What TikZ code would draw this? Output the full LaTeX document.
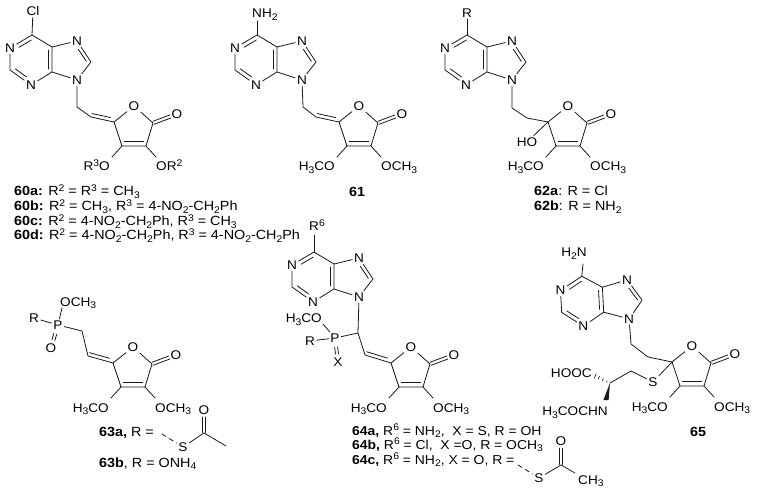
\documentclass[tikz,border=0pt]{standalone}
\usepackage{fontspec}
\setmainfont[FakeStretch=1.08]{Liberation Sans}
\usetikzlibrary{calc}
\newcommand\Up[1]{\raisebox{4.8pt}{\fontsize{9.6}{10}\selectfont #1}}
\newcommand\Dn[1]{\raisebox{-2.8pt}{\fontsize{9.6}{10}\selectfont #1}}
\tikzset{
 bnd/.style={line width=.8pt,line cap=round,line join=round,draw=black!90},
 dbnd/.style={bnd,dash pattern=on 4.5pt off 4pt},
 atom/.style={inner sep=1.6pt,font=\fontsize{12.6}{14}\selectfont},
 grp/.style={inner sep=0pt,font=\fontsize{12.6}{14}\selectfont},
 caption/.style={inner sep=0pt,anchor=base west,font=\fontsize{13.3}{14}\selectfont},
 captionb/.style={caption,font=\fontsize{12.9}{14}\selectfont},
}
% inner double-bond line: a, b, offset, start fraction, end fraction
\newcommand\inn[5]{\draw[bnd] ($(#1)!#4!(#2)!#3pt!90:(#2)$) -- ($(#1)!#5!(#2)!#3pt!90:(#2)$);}
% symmetric double bond
\newcommand\dbo[5]{\inn{#1}{#2}{#3}{#4}{#5}\inn{#1}{#2}{-#3}{#4}{#5}}
\newcommand\purine[4]{%
 \begin{scope}[shift={(#2,#3)},rotate=#4]
  \node[atom] (#1n1) at (10,48) {N};
  \node[atom] (#1n3) at (31,85) {N};
  \node[atom] (#1n7) at (77,41) {N};
  \node[atom] (#1n9) at (77,80) {N};
  \coordinate (#1c6) at (32,35);
  \coordinate (#1c2) at (10,70);
  \coordinate (#1c4) at (52,72);
  \coordinate (#1c5) at (52,47);
  \coordinate (#1c8) at (91,62);
 \end{scope}
 \draw[bnd] (#1c6) -- (#1n1) (#1n1) -- (#1c2) -- (#1n3) (#1n3) -- (#1c4) -- (#1c5) -- (#1c6)
  (#1c5) -- (#1n7) (#1n7) -- (#1c8) -- (#1n9) (#1n9) -- (#1c4);
 \inn{#1c6}{#1n1}{4}{.12}{.68}
 \inn{#1c2}{#1n3}{4}{.14}{.68}
 \inn{#1c4}{#1c5}{4}{.12}{.88}
 \inn{#1c8}{#1n7}{3.5}{.12}{.7}
}
% furanone ring, #4 left label, #5 right label
\newcommand\furan[5]{%
 \begin{scope}[shift={(#2,#3)}]
  \coordinate (#1a) at (114,122);
  \node[atom] (#1o) at (134,106) {O};
  \coordinate (#1b) at (153,123);
  \coordinate (#1c) at (146,146);
  \coordinate (#1d) at (122,146);
  \node[atom] (#1k) at (177,114) {O};
  \node[grp,anchor=base east] (#1l) at (110,171) {#4};
  \node[grp,anchor=base west] (#1r) at (156,171) {#5};
  \coordinate (#1le) at (112,157);
  \coordinate (#1re) at (156,157);
 \end{scope}
 \draw[bnd] (#1a) -- (#1o) (#1o) -- (#1b) -- (#1c) -- (#1d) -- (#1a);
 \inn{#1d}{#1c}{4.2}{.1}{.9}
 \dbo{#1b}{#1k}{1.6}{.02}{.72}
 \draw[bnd] (#1d) -- (#1le) (#1c) -- (#1re);
}
\begin{document}
\begin{tikzpicture}[x=1pt,y=-1pt]
\useasboundingbox (0,0) rectangle (758,489);
% ---- 60
\purine{p}{0}{0}{0}
\furan{f}{0}{0}{R\Up{3}O}{OR\Up{2}}
\node[atom] (cl) at (33,11) {Cl};
\draw[bnd] (pc6) -- (cl);
\coordinate (pm) at (77,107);
\coordinate (pv) at (91,117);
\draw[bnd] (pn9) -- (pm) -- (pv) -- (fa);
\inn{pv}{fa}{3.6}{.02}{.82}
\node[caption] (l60a) at (14,196) {\textbf{60a:} R\Up{2} = R\Up{3} = CH\Dn{3}};
\node[caption] (l60b) at (14,211) {\textbf{60b:} R\Up{2} = CH\Dn{3}, R\Up{3} = 4-NO\Dn{2}-CH\Dn{2}Ph};
\node[caption] (l60c) at (14,226) {\textbf{60c:} R\Up{2} = 4-NO\Dn{2}-CH\Dn{2}Ph, R\Up{3} = CH\Dn{3}};
\node[caption] (l60d) at (14,240) {\textbf{60d:} R\Up{2} = 4-NO\Dn{2}-CH\Dn{2}Ph, R\Up{3} = 4-NO\Dn{2}-CH\Dn{2}Ph};
% ---- 61
\purine{q}{225}{0}{0}
\furan{g}{225}{0}{H\Dn{3}CO}{OCH\Dn{3}}
\node[grp,anchor=base west] (nh) at (252,18) {NH\Dn{2}};
\coordinate (nhe) at (257,21);
\draw[bnd] (qc6) -- (nhe);
\coordinate (qm) at (303,107);
\coordinate (qv) at (316,117);
\draw[bnd] (qn9) -- (qm) -- (qv) -- (ga);
\inn{qv}{ga}{3.6}{.02}{.82}
\node[caption,anchor=base,font=\fontsize{13.3}{14}\selectfont\bfseries] (l61) at (357,197) {61};
% ---- 62
\purine{r}{435}{0}{0}
\furan{h}{434}{0}{H\Dn{3}CO}{OCH\Dn{3}}
\node[atom] (rr) at (467,13) {R};
\draw[bnd] (rc6) -- (rr);
\coordinate (rm) at (512,108);
\coordinate (rv) at (527,118);
\draw[bnd] (rn9) -- (rm) -- (rv) -- (ha);
\node[atom] (ho) at (527,142) {HO};
\draw[bnd] (ha) -- (ho);
\node[caption] (l62a) at (534,196) {\textbf{62a}: R = Cl};
\node[caption] (l62b) at (534,211) {\textbf{62b}: R = NH\Dn{2}};
% ---- 63
\furan{i}{-1}{241}{H\Dn{3}CO}{OCH\Dn{3}}
\node[atom] (ip) at (58,325) {P};
\node[atom] (ir) at (34,318) {R};
\node[atom] (iq) at (51,348) {O};
\node[grp,anchor=base west] (ime) at (60,306) {OCH\Dn{3}};
\coordinate (ime2) at (62,308);
\coordinate (im) at (82,331);
\coordinate (iv) at (88,356);
\draw[bnd] (ir) -- (ip) (ip) -- (ime2) (ip) -- (im) -- (iv) -- (ia);
\dbo{ip}{iq}{1.5}{.38}{.66}
\inn{iv}{ia}{3.6}{.02}{.82}
\node[caption] (l63a) at (99,436) {\textbf{63a,} R =};
\node[caption] (l63b) at (99,467) {\textbf{63b}, R = ONH\Dn{4}};
\coordinate (ia0) at (162,434);
\node[atom] (is) at (183,447) {S};
\coordinate (ic) at (204,433);
\node[atom] (io) at (204,410) {O};
\coordinate (ie) at (226,446);
\draw[dbnd] (ia0) -- (is);
\draw[bnd] (is) -- (ic) -- (ie);
\dbo{ic}{io}{1.6}{.02}{.7}
% ---- 64
\purine{s}{282}{217}{0}
\furan{j}{277}{241}{H\Dn{3}CO}{OCH\Dn{3}}
\node[grp,anchor=base west] (r6) at (309,231) {R\Up{6}};
\coordinate (r6e) at (314,235);
\draw[bnd] (sc6) -- (r6e);
\coordinate (sm) at (358,333);
\coordinate (sv) at (365,355);
\node[atom] (sp) at (335,338) {P};
\node[atom] (sr) at (310,341) {R};
\node[atom] (sx) at (338,362) {X};
\node[grp,anchor=base east] (sme) at (322,323) {H\Dn{3}CO};
\coordinate (sme2) at (323,324);
\draw[bnd] (sn9) -- (sm) -- (sv) -- (ja) (sm) -- (sp) (sp) -- (sr) (sp) -- (sme2);
\dbo{sp}{sx}{1.5}{.38}{.66}
\inn{sv}{ja}{3.6}{.02}{.82}
\node[captionb] (l64a) at (352,435) {\textbf{64a,} R\Up{6} = NH\Dn{2},\ \ X = S, R = OH};
\node[captionb] (l64b) at (352,449) {\textbf{64b,} R\Up{6} = Cl,\ \ X =O, R = OCH\Dn{3}};
\node[captionb] (l64c) at (352,464) {\textbf{64c,} R\Up{6} = NH\Dn{2}, X = O, R =};
\coordinate (ta0) at (518,465);
\node[atom] (ts) at (539,478) {S};
\coordinate (tc) at (561,465);
\node[atom] (to) at (561,441) {O};
\node[grp,anchor=base west] (tm) at (578,484) {CH\Dn{3}};
\coordinate (tme) at (575,473);
\draw[dbnd] (ta0) -- (ts);
\draw[bnd] (ts) -- (tc) -- (tme);
\dbo{tc}{to}{1.6}{.02}{.7}
% ---- 65
\purine{u}{548}{243}{3}
\furan{k}{558}{240}{H\Dn{3}CO}{OCH\Dn{3}}
\node[grp,anchor=base east] (h2n) at (587,257) {H\Dn{2}N};
\coordinate (h2e) at (583,264);
\draw[bnd] (uc6) -- (h2e);
\coordinate (um) at (631,344);
\coordinate (uv) at (648,357);
\draw[bnd] (un9) -- (um) -- (uv) -- (ka);
\node[atom] (us) at (653,382) {S};
\coordinate (uw) at (631,371);
\coordinate (ux) at (610,383);
\draw[bnd] (ka) -- (us) (us) -- (uw) -- (ux);
\node[grp,anchor=base east] (hooc) at (592,377) {HOOC};
\node[grp,anchor=base east] (ac) at (608,415.5) {H\Dn{3}COCHN};
\coordinate (wd) at (606,400);
\fill[black!90] (ux) -- ($(wd)+(-2.6,0)$) -- ($(wd)+(2.6,0)$) -- cycle;
\coordinate (hh) at (594,375.5);
\foreach \t/\w in {.2/.9,.45/1.4,.7/1.9,.92/2.4}
  \draw[line width=.6pt,draw=black!90] ($(ux)!\t!(hh)!\w pt!90:(hh)$) -- ($(ux)!\t!(hh)!\w pt!-90:(hh)$);
\node[caption,anchor=base,font=\fontsize{13.3}{14}\selectfont\bfseries] (l65) at (698,436) {65};
\end{tikzpicture}
\end{document}
